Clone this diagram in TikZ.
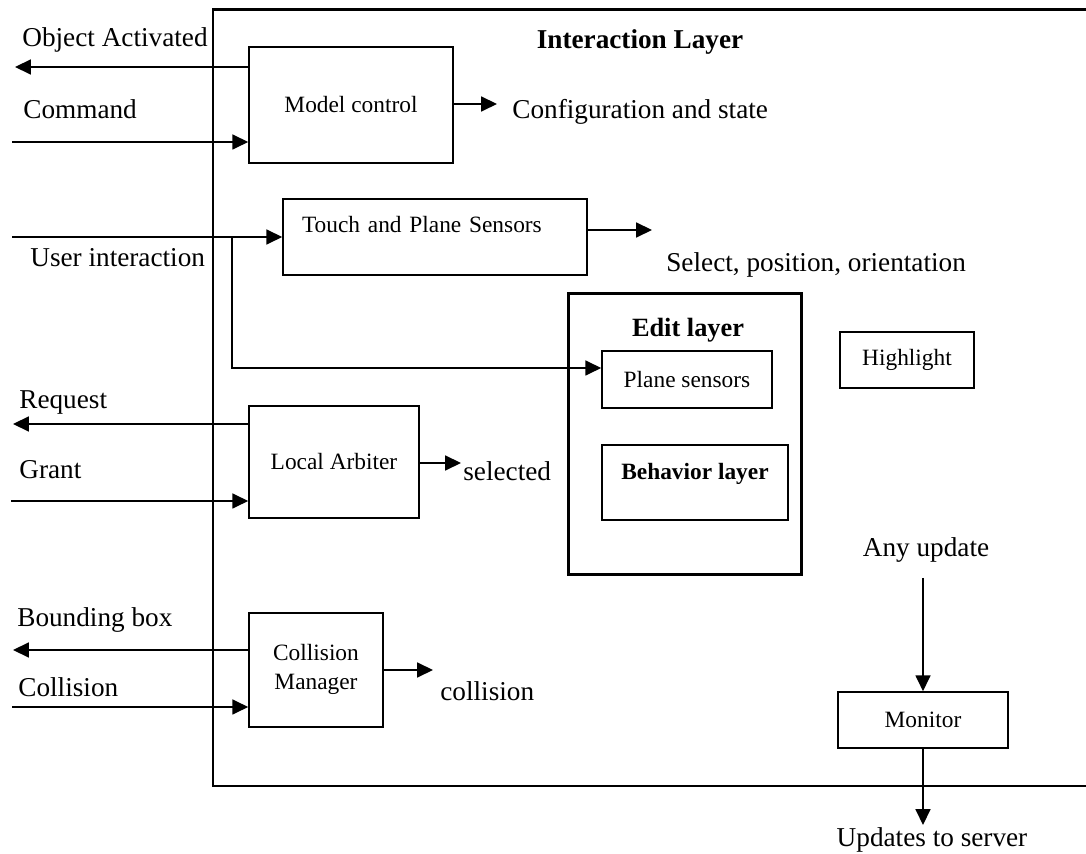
\documentclass[tikz,border=0pt]{standalone}
\usepackage{fontspec}
\setmainfont{Liberation Serif}
\usetikzlibrary{arrows.meta,positioning}

\begin{document}
\begin{tikzpicture}[x=0.02cm,y=-0.02cm,
  box/.style={draw, line width=0.9pt, inner sep=0pt, align=center,
              font=\fontsize{13.3}{16.4}\selectfont},
  lbl/.style={inner sep=0pt, text height=12.4pt, text depth=3.1pt,
              font=\fontsize{15.5}{18}\selectfont},
  ttl/.style={inner sep=0pt, font=\bfseries\fontsize{15.5}{18}\selectfont},
  frm/.style={line width=1.7pt},
  arr/.style={-{Triangle[length=9pt,width=8.5pt]}, line width=0.85pt}
]
  \useasboundingbox (0,0) rectangle (1086,854);

  % interaction layer frame, open to the right
  \draw[frm] (1086,10) -| (213,786) -- (1086,786);
  \node[ttl] (inter) at (640,42) {Interaction Layer};

  % boxes
  \node[box, minimum width=4.08cm, minimum height=2.32cm] (model) at (351,105) {Model control};
  \node[box, minimum width=6.08cm, minimum height=1.52cm, text width=5.32cm, align=left,
        text height=0.33cm, text depth=0.49cm] (touch) at (435,237) {Touch and Plane Sensors};
  \node[box, minimum width=3.4cm, minimum height=2.24cm] (local) at (334,462) {Local Arbiter};
  \node[box, minimum width=2.68cm, minimum height=2.28cm, text height=0.89cm] (coll) at (316,670) {Collision\\Manager};
  \node[draw, frm, minimum width=4.68cm, minimum height=5.64cm, inner sep=0pt] (edit) at (685,434) {};
  \node[ttl, font=\bfseries\fontsize{15}{18}\selectfont] (edittitle) at (688,330) {Edit layer};
  \node[box, minimum width=3.4cm, minimum height=1.14cm] (plane) at (687,379.5) {Plane sensors};
  \node[box, minimum width=3.72cm, minimum height=1.5cm, text height=0.33cm, text depth=0.43cm,
        font=\bfseries\fontsize{13.3}{16}\selectfont] (behav) at (695,482.5) {Behavior layer};
  \node[box, minimum width=2.68cm, minimum height=1.12cm] (highlight) at (907,360) {Highlight};
  \node[box, minimum width=3.4cm, minimum height=1.12cm] (monitor) at (923,720) {Monitor};

  % outside labels
  \node[lbl, anchor=west] (oalbl) at (22,38) {Object Activated};
  \node[lbl, anchor=west] (cmdlbl) at (23,110) {Command};
  \node[lbl, anchor=west] (uilbl) at (30,258) {User interaction};
  \node[lbl, anchor=west] (reqlbl) at (19,400) {Request};
  \node[lbl, anchor=west] (grantlbl) at (19,470) {Grant};
  \node[lbl, anchor=west] (bblbl) at (17,618) {Bounding box};
  \node[lbl, anchor=west] (colllbl) at (18,688) {Collision};
  \node[lbl, anchor=west] (config) at (512,110) {Configuration and state};
  \node[lbl, anchor=west] (select) at (666,263) {Select, position, orientation};
  \node[lbl, anchor=west] (selected) at (463,472) {selected};
  \node[lbl, anchor=west] (collout) at (440,692) {collision};
  \node[lbl] (anyupd) at (926,548) {Any update};
  \node[lbl] (updsrv) at (932,838) {Updates to server};

  % free ends
  \coordinate (oaend) at (15,67);
  \coordinate (cmdstart) at (12,142);
  \coordinate (uistart) at (12,237);
  \coordinate (branch) at (232,237);
  \coordinate (bend) at (232,368);
  \coordinate (reqend) at (13,424);
  \coordinate (grantstart) at (11,501);
  \coordinate (bbend) at (13,650);
  \coordinate (collstart) at (12,707);
  \coordinate (cfgin) at (497,104);
  \coordinate (selin) at (652,230);
  \coordinate (selectedin) at (461,463);
  \coordinate (collin) at (433,670);
  \coordinate (anyin) at (923,578);
  \coordinate (updout) at (923,825);

  % connectors
  \draw[arr] (model.west |- oaend) -- (oaend);
  \draw[arr] (cmdstart) -- (cmdstart -| model.west);
  \draw[arr] (cfgin -| model.east) -- (cfgin);
  \draw[arr] (uistart) -- (touch.west);
  \draw[arr] (branch) -- (bend) -- (bend -| plane.west);
  \draw[arr] (selin -| touch.east) -- (selin);
  \draw[arr] (local.west |- reqend) -- (reqend);
  \draw[arr] (grantstart) -- (grantstart -| local.west);
  \draw[arr] (selectedin -| local.east) -- (selectedin);
  \draw[arr] (coll.west |- bbend) -- (bbend);
  \draw[arr] (collstart) -- (collstart -| coll.west);
  \draw[arr] (coll.east) -- (collin);
  \draw[arr] (anyin) -- (monitor.north);
  \draw[arr] (monitor.south) -- (updout);
\end{tikzpicture}
\end{document}
